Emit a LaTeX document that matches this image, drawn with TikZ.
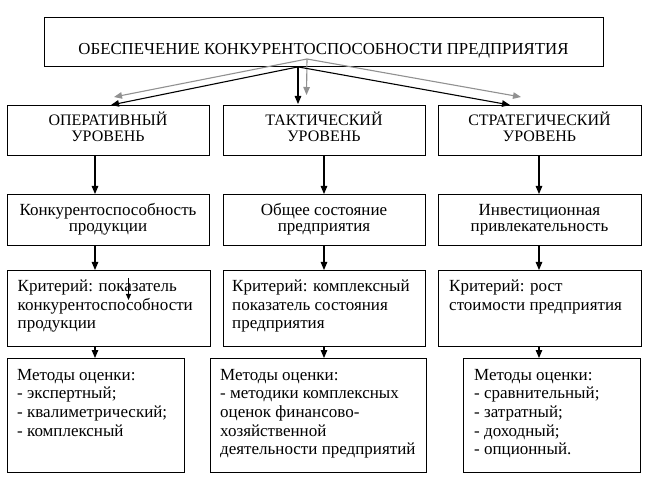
\documentclass[tikz,border=0pt]{standalone}
\usepackage{fontspec}
\setmainfont{Liberation Serif}
\usetikzlibrary{arrows.meta,calc}
\definecolor{grayarrow}{RGB}{145,145,145}
\newcommand\tstrut{\rule{0pt}{16pt}}
\begin{document}
\begin{tikzpicture}[x=1pt,y=-1pt,
  box/.style={draw=black, line width=0.9pt, inner sep=0pt, anchor=north west},
  titletxt/.style={inner sep=0pt, font=\fontsize{16.8}{18}\selectfont},
  capstxt/.style={inner sep=0pt, align=center, anchor=north, font=\fontsize{16}{16}\selectfont},
  ctrtxt/.style={inner sep=0pt, align=center, anchor=north, font=\fontsize{17}{16.7}\selectfont},
  crittxt/.style={inner sep=0pt, align=left, anchor=north west, font=\fontsize{17}{18.3}\selectfont},
  methtxt/.style={inner sep=0pt, align=left, anchor=north west, font=\fontsize{17}{18.6}\selectfont},
  arr/.style={-{Triangle[length=8pt,width=6.5pt]}, line width=1.1pt, draw=black},
  garr/.style={-{Triangle[length=8pt,width=6.5pt]}, line width=1.1pt, draw=grayarrow, color=grayarrow},
  thinarr/.style={-{Triangle[length=6pt,width=5pt]}, line width=0.8pt, draw=black}]
\useasboundingbox (0,0) rectangle (651,481);
\fill[white] (0,0) rectangle (651,481);

% boxes
\node[box, minimum width=559pt, minimum height=49pt] (top) at (44,17) {};
\node[box, minimum width=202pt, minimum height=50pt] (b11) at (7,105) {};
\node[box, minimum width=202pt, minimum height=50pt] (b12) at (223,105) {};
\node[box, minimum width=203pt, minimum height=50pt] (b13) at (438,105) {};
\node[box, minimum width=202pt, minimum height=51pt] (b21) at (7,194) {};
\node[box, minimum width=202pt, minimum height=51pt] (b22) at (223,194) {};
\node[box, minimum width=203pt, minimum height=51pt] (b23) at (438,194) {};
\node[box, minimum width=203pt, minimum height=76pt] (b31) at (6.5,270) {};
\node[box, minimum width=202pt, minimum height=76pt] (b32) at (223,270) {};
\node[box, minimum width=203pt, minimum height=76pt] (b33) at (438,270) {};
\node[box, minimum width=177pt, minimum height=114pt] (b41) at (7,358) {};
\node[box, minimum width=216pt, minimum height=114pt] (b42) at (210,358) {};
\node[box, minimum width=177pt, minimum height=114pt] (b43) at (463,358) {};

% texts
\node[titletxt] (ttop) at (323.5,50.5) {ОБЕСПЕЧЕНИЕ КОНКУРЕНТОСПОСОБНОСТИ ПРЕДПРИЯТИЯ};
\node[capstxt] (t11) at (108,109.7) {\tstrut ОПЕРАТИВНЫЙ\\УРОВЕНЬ};
\node[capstxt] (t12) at (324,109.7) {\tstrut ТАКТИЧЕСКИЙ\\УРОВЕНЬ};
\node[capstxt] (t13) at (539.5,109.7) {\tstrut СТРАТЕГИЧЕСКИЙ\\УРОВЕНЬ};
\node[ctrtxt] (t21) at (108,199) {\tstrut Конкурентоспособность\\продукции};
\node[ctrtxt] (t22) at (324,199) {\tstrut Общее состояние\\предприятия};
\node[ctrtxt] (t23) at (539.5,199) {\tstrut Инвестиционная\\привлекательность};
\node[crittxt] (t31) at (17.5,275.7) {\tstrut Критерий: показатель\\конкурентоспособности\\продукции};
\node[crittxt] (t32) at (232,275.7) {\tstrut Критерий: комплексный\\показатель состояния\\предприятия};
\node[crittxt] (t33) at (449,275.7) {\tstrut Критерий: рост\\стоимости предприятия};
\node[methtxt] (t41) at (17,364) {\tstrut Методы оценки:\\- экспертный;\\- квалиметрический;\\- комплексный};
\node[methtxt] (t42) at (220,364) {\tstrut Методы оценки:\\- методики комплексных\\оценок финансово-\\хозяйственной\\деятельности предприятий};
\node[methtxt] (t43) at (474,364) {\tstrut Методы оценки:\\- сравнительный;\\- затратный;\\- доходный;\\- опционный.};

% reference coordinates
\coordinate (xl) at (95,0);
\coordinate (xm) at (324,0);
\coordinate (xr) at (539,0);
\coordinate (xs) at (298,0);
\coordinate (xtl) at (111,0);
\coordinate (xtr) at (510,0);
\coordinate (gs) at (307,59);
\coordinate (g1) at (114,97);
\coordinate (g2) at (306.5,95);
\coordinate (g3) at (521,97);
\coordinate (s1) at (128.5,278);
\coordinate (s2) at (128.5,300);

% gray arrows
\draw[garr] (gs) -- (g1);
\draw[garr] (gs) -- (g2);
\draw[garr] (gs) -- (g3);
% black arrows from top
\draw[arr] (top.south -| xs) -- (b11.north -| xtl);
\draw[arr] (top.south -| xs) -- ($(b12.north -| xs)+(0,-1)$);
\draw[arr] (top.south -| xs) -- (b13.north -| xtr);
% vertical arrows
\draw[arr] (b11.south -| xl) -- (b21.north -| xl);
\draw[arr] (b12.south -| xm) -- (b22.north -| xm);
\draw[arr] (b13.south -| xr) -- (b23.north -| xr);
\draw[arr] (b21.south -| xl) -- (b31.north -| xl);
\draw[arr] (b22.south -| xm) -- (b32.north -| xm);
\draw[arr] (b23.south -| xr) -- (b33.north -| xr);
\draw[arr] (b31.south -| xl) -- (b41.north -| xl);
\draw[arr] (b32.south -| xm) -- (b42.north -| xm);
\draw[arr] (b33.south -| xr) -- (b43.north -| xr);
% stray arrow inside criterion box
\draw[thinarr] (s1) -- (s2);
\end{tikzpicture}
\end{document}
